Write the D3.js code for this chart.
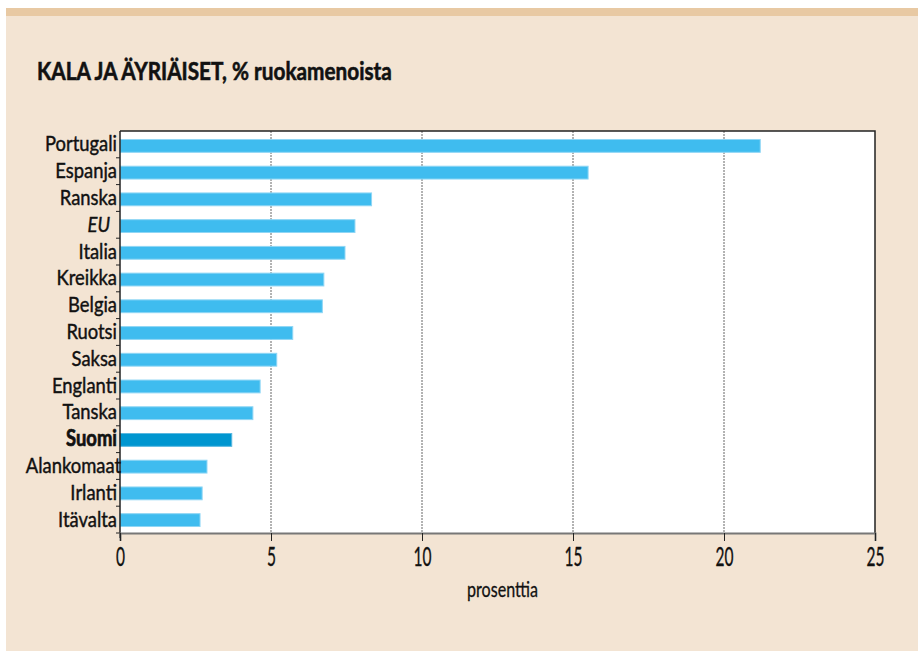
<!DOCTYPE html>
<html>
<head>
<meta charset="utf-8">
<script src="https://cdn.jsdelivr.net/npm/d3@7"></script>
<style>
  body { margin: 0; background: #fff; }
  svg text { font-family: Lato, "DejaVu Sans", sans-serif; fill: #111; }
</style>
</head>
<body>
<div id="chart"></div>
<script>
// Data
const countries = ['Portugali', 'Espanja', 'Ranska', 'EU', 'Italia', 'Kreikka', 'Belgia', 'Ruotsi',
    'Saksa', 'Englanti', 'Tanska', 'Suomi', 'Alankomaat', 'Irlanti', 'Itävalta'];
const shares = [21.2, 15.5, 8.33, 7.78, 7.45, 6.75, 6.7, 5.72, 5.19, 4.64, 4.4, 3.7, 2.88, 2.72, 2.65];
const xTicks = [0, 5, 10, 15, 20, 25];

const width = 918, height = 651;
const margin = { left: 120, top: 131, right: 875, bottom: 533 };

const svg = d3.select('#chart')
    .append('svg')
    .attr('width', width)
    .attr('height', height);

// The reference uses a tall condensed face; squeeze a normal one to the same widths
function squeeze(sample, size, weight, target) {
    const t = svg.append('text').attr('font-size', size).attr('font-weight', weight).text(sample);
    const w = t.node().getComputedTextLength();
    t.remove();
    return target / w;
}

// Panel background + top band
svg.append('rect').attr('x', 6).attr('y', 8).attr('width', width - 6).attr('height', height - 8).attr('fill', '#f3e4d3');
svg.append('rect').attr('x', 6).attr('y', 8).attr('width', width - 6).attr('height', 8).attr('fill', '#e8c9a3');

const titleText = 'KALA JA ÄYRIÄISET, % ruokamenoista';
const titleSx = squeeze(titleText, 25, 'bold', 355);
svg.append('text')
    .attr('transform', `translate(37,80) scale(${titleSx},1)`)
    .attr('font-size', '25px')
    .attr('font-weight', 'bold')
    .attr('stroke', '#111')
    .attr('stroke-width', 0.6)
    .text(titleText);

const x = d3.scaleLinear().domain([0, 25]).range([margin.left, margin.right]);
const y = d3.scaleBand().domain(countries).range([margin.top, margin.bottom]).paddingInner(0.52).paddingOuter(0.28);
const band = d3.scaleBand().domain(countries).range([margin.top, margin.bottom]);

// Plot area
svg.append('rect')
    .attr('x', margin.left).attr('y', margin.top)
    .attr('width', margin.right - margin.left).attr('height', margin.bottom - margin.top)
    .attr('fill', '#fff');

// Gridlines
svg.append('g')
    .selectAll('line')
    .data(xTicks.filter(d => d > 0 && d < 25))
    .join('line')
    .attr('x1', d => x(d)).attr('x2', d => x(d))
    .attr('y1', margin.top).attr('y2', margin.bottom)
    .attr('stroke', '#666')
    .attr('stroke-width', 1)
    .attr('stroke-dasharray', '2,1');

// Bars
svg.append('g')
    .selectAll('rect')
    .data(countries)
    .join('rect')
    .attr('x', x(0))
    .attr('y', d => y(d) + 1)
    .attr('width', (d, i) => x(shares[i]) - x(0))
    .attr('height', y.bandwidth())
    .attr('fill', d => d === 'Suomi' ? '#0096d0' : '#3fbcef')
    .attr('stroke', d => d === 'Suomi' ? '#5ab8e0' : '#8fd6f5')
    .attr('stroke-width', 1);

// Frame: top/right dark
svg.append('path')
    .attr('d', `M${margin.left},${margin.top}H${margin.right}V${margin.bottom}`)
    .attr('fill', 'none').attr('stroke', '#222').attr('stroke-width', 1.5);

// Y axis
const labelSx = squeeze('Portugali', 22, 'normal', 72);
const yAxis = svg.append('g')
    .attr('transform', `translate(${margin.left},0)`);
yAxis.append('line')
    .attr('x1', 0).attr('x2', 0).attr('y1', margin.top).attr('y2', margin.bottom + 5)
    .attr('stroke', '#222').attr('stroke-width', 1.5);
yAxis.selectAll('line.tick')
    .data(countries)
    .join('line')
    .attr('class', 'tick')
    .attr('x1', -4).attr('x2', 0)
    .attr('y1', d => band(d) + band.bandwidth()).attr('y2', d => band(d) + band.bandwidth())
    .attr('stroke', '#222').attr('stroke-width', 1);
yAxis.selectAll('text')
    .data(countries)
    .join('text')
    .attr('transform', d => `translate(${d === 'Alankomaat' ? 1 : d === 'EU' ? -10 : -3},${band(d) + band.bandwidth() / 2 + 7}) scale(${labelSx},1)`)
    .attr('text-anchor', 'end')
    .attr('font-size', '22px')
    .attr('font-weight', d => d === 'Suomi' ? 'bold' : 'normal')
    .attr('font-style', d => d === 'EU' ? 'italic' : 'normal')
    .attr('stroke', '#111')
    .attr('stroke-width', d => d === 'Suomi' ? 0.7 : 0.45)
    .text(d => d);

// X axis
const tickSx = squeeze('20', 27, 'normal', 18);
const xAxis = svg.append('g')
    .attr('transform', `translate(0,${margin.bottom})`)
    .call(d3.axisBottom(x).tickValues(xTicks).tickSize(8).tickPadding(6));
xAxis.select('.domain').attr('stroke', '#777').attr('stroke-width', 2);
xAxis.selectAll('.tick line').attr('stroke', '#222');
xAxis.selectAll('.tick text')
    .attr('y', 33)
    .attr('dy', null)
    .attr('transform', `scale(${tickSx},1)`)
    .attr('font-size', '27px')
    .attr('fill', '#111')
    .attr('stroke', '#111')
    .attr('stroke-width', 0.35)
    .style('font-family', 'Lato, "DejaVu Sans", sans-serif');

const axisLabel = 'prosenttia';
const axisSx = squeeze(axisLabel, 21, 'normal', 71);
svg.append('text')
    .attr('transform', `translate(${x(12.5) + 5},597) scale(${axisSx},1)`)
    .attr('text-anchor', 'middle')
    .attr('font-size', '21px')
    .attr('stroke', '#111')
    .attr('stroke-width', 0.3)
    .text(axisLabel);
</script>
</body>
</html>
